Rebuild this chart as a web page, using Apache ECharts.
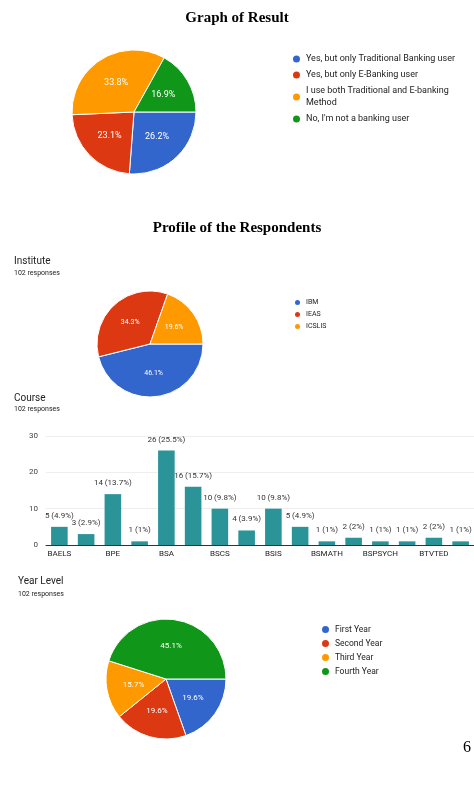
<!DOCTYPE html><html><head><meta charset="utf-8">
<script src="https://cdn.jsdelivr.net/npm/echarts@6/dist/echarts.min.js"></script>
<style>html,body{margin:0;padding:0;background:#fff}#c{width:474px;height:790px}</style></head><body><div id="c"></div>
<script>
const resultNames=["Yes, but only Traditional Banking user","Yes, but only E-Banking user","I use both Traditional and E-banking\nMethod","No, I'm not a banking user"];
const resultValues=[26.2,23.1,33.8,16.9];
const instNames=["IBM","IEAS","ICSLIS"];
const instValues=[46.1,34.3,19.6];
const courseCats=["BAELS","BEED","BPE","BPED","BSA","BSAIS","BSCS","BSEMC","BSIS","BSIT","BSMATH","BSN","BSPSYCH","BSSW","BTVTED","BTLED"];
const courseValues=[5,3,14,1,26,16,10,4,10,5,1,2,1,1,2,1];
const yearNames=["First Year","Second Year","Third Year","Fourth Year"];
const yearValues=[19.6,19.6,15.7,45.1];
const yTicks=[0,10,20,30];
const colors=["#3366cc","#dc3912","#ff9900","#109618"];
const total=102;
const ch=echarts.init(document.getElementById('c'));
const sans="Roboto, Arial, sans-serif";
function pie(names,vals,cx,cy,r,fs){return{type:'pie',center:[cx,cy],radius:r,startAngle:0,clockwise:true,
 data:names.map((n,i)=>({name:n,value:vals[i],itemStyle:{color:colors[i]}})),
 label:{position:'inside',formatter:p=>p.value.toFixed(1)+'%',color:'#fff',fontSize:fs,fontFamily:sans},
 itemStyle:{borderColor:'#fff',borderWidth:1},labelLine:{show:false},animation:false};}
function txt(x,y,t,fs,extra){return Object.assign({type:'text',left:x,top:y,style:Object.assign({text:t,fontSize:fs,fontFamily:sans,fill:'#222'},extra||{})});}
ch.setOption({animation:false,
 title:[{text:'Graph of Result',left:'center',top:6,textStyle:{fontFamily:'Liberation Serif, serif',fontSize:15,fontWeight:'bold',color:'#000'}},
  {text:'Profile of the Respondents',left:'center',top:216,textStyle:{fontFamily:'Liberation Serif, serif',fontSize:15,fontWeight:'bold',color:'#000'}}],
 legend:[
  {data:resultNames,left:286,top:48,orient:'vertical',icon:'circle',itemWidth:9,itemHeight:9,itemGap:4,textStyle:{fontSize:9,fontFamily:sans,color:'#222',lineHeight:12}},
  {data:instNames,left:288,top:293,orient:'vertical',icon:'circle',itemWidth:7,itemHeight:7,itemGap:3,textStyle:{fontSize:7,fontFamily:sans,color:'#222'}},
  {data:yearNames,left:315,top:619,orient:'vertical',icon:'circle',itemWidth:9,itemHeight:9,itemGap:3,textStyle:{fontSize:8.5,fontFamily:sans,color:'#222'}}],
 grid:{left:46,right:-14,top:436,height:109},
 xAxis:{type:'category',data:courseCats,axisTick:{show:false},axisLine:{lineStyle:{color:'#333'}},
  axisLabel:{interval:1,fontSize:8,fontFamily:sans,color:'#222',margin:5}},
 yAxis:{type:'value',min:yTicks[0],max:yTicks[yTicks.length-1],interval:10,
  axisLabel:{fontSize:8,fontFamily:sans,color:'#444'},splitLine:{lineStyle:{color:'#eee'}}},
 series:[pie(resultNames,resultValues,134,112,62,9),
  pie(instNames,instValues,150,344,53,7),
  pie(yearNames,yearValues,166,679,60,8),
  {type:'bar',data:courseValues,barWidth:'62%',itemStyle:{color:'#2a9499'},
   label:{show:true,position:'top',distance:7,fontSize:8,fontFamily:sans,color:'#333',
    formatter:p=>p.value+' ('+parseFloat((p.value/total*100).toFixed(1))+'%)'}}],
 graphic:[txt(14,256,'Institute',10),txt(14,270,'102 responses',7),
  txt(14,393,'Course',10),txt(14,406,'102 responses',7),
  txt(18,576,'Year Level',10),txt(18,591,'102 responses',7),
  {type:'text',left:463,top:740,style:{text:'6',fontSize:16,fontFamily:'Liberation Serif, serif',fill:'#000'}}]
});
</script></body></html>
